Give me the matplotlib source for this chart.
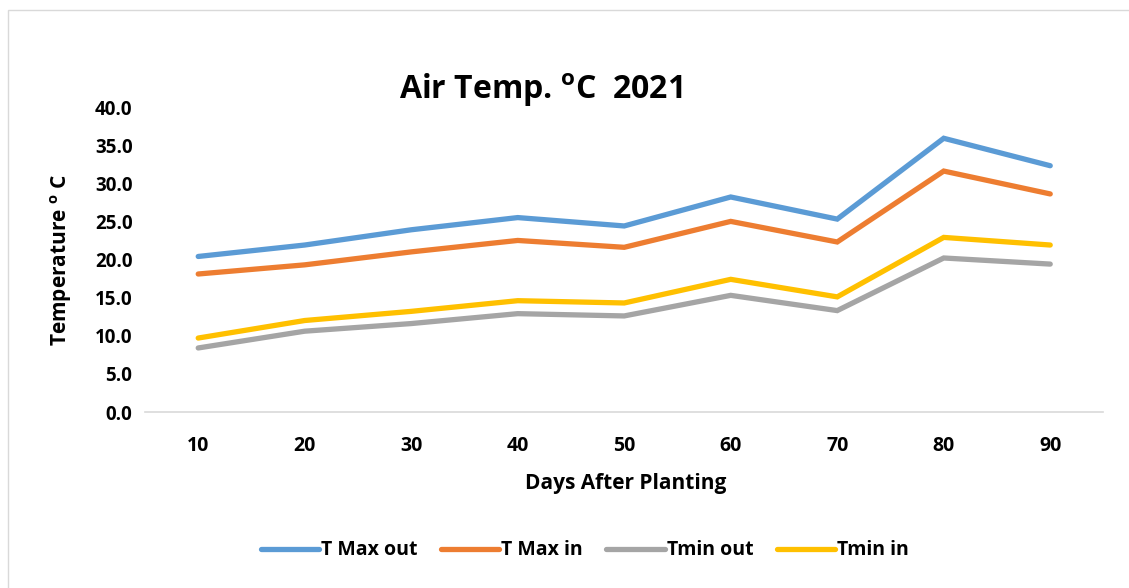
import matplotlib

matplotlib.use("Agg")
import matplotlib.pyplot as plt
from matplotlib.patches import Rectangle

plt.rcParams["font.family"] = ["Open Sans", "DejaVu Sans"]
plt.rcParams["font.weight"] = "bold"
plt.rcParams["mathtext.fontset"] = "custom"
plt.rcParams["mathtext.rm"] = "Open Sans"
plt.rcParams["mathtext.bf"] = "Open Sans:bold"

# days after planting
days = [10, 20, 30, 40, 50, 60, 70, 80, 90]
day_labels = ["10", "20", "30", "40", "50", "60", "70", "80", "90"]

# air temperature, deg C
t_max_out = [20.4, 21.9, 23.9, 25.5, 24.4, 28.2, 25.3, 35.9, 32.3]
t_max_in = [18.1, 19.3, 21.0, 22.5, 21.6, 25.0, 22.3, 31.6, 28.6]
t_min_out = [8.4, 10.6, 11.6, 12.9, 12.6, 15.3, 13.3, 20.2, 19.4]
t_min_in = [9.7, 12.0, 13.2, 14.6, 14.3, 17.4, 15.1, 22.9, 21.9]

series = [
    ("T Max out", t_max_out, "#5B9BD5"),
    ("T Max in", t_max_in, "#ED7D31"),
    ("Tmin out", t_min_out, "#A5A5A5"),
    ("Tmin in", t_min_in, "#FFC000"),
]

fig = plt.figure(figsize=(11.29, 5.88), dpi=100)
ax = fig.add_axes([0.1284, 0.2993, 0.849, 0.5187])

for name, vals, col in series:
    ax.plot(days, vals, color=col, lw=3.8, label=name, solid_capstyle="round",
            solid_joinstyle="miter")

ax.set_xlim(5, 95)
ax.set_ylim(0, 40)
ax.set_yticks([0, 5, 10, 15, 20, 25, 30, 35, 40])
ax.set_yticklabels([f"{v:.1f}" for v in ax.get_yticks()], fontsize=13.5, fontweight="bold")
ax.set_xticks(days)
ax.set_xticklabels(day_labels, fontsize=14, fontweight="bold")
ax.tick_params(length=0)
ax.tick_params(axis="x", pad=17)
ax.tick_params(axis="y", pad=9)

for s in ["top", "right", "left"]:
    ax.spines[s].set_visible(False)
ax.spines["bottom"].set_color("#D9D9D9")
ax.spines["bottom"].set_linewidth(1.2)

ax.set_xlabel("Days After Planting", fontsize=15, fontweight="bold")
ax.set_ylabel(r"Temperature $^{\mathbf{o}}$ C", fontsize=15, fontweight="bold")
ax.yaxis.set_label_coords(-0.074, 0.50)
ax.xaxis.set_label_coords(0.502, -0.20)

fig.text(0.479, 0.847, r"Air Temp. $^{\mathbf{o}}$C  2021", fontsize=23,
         fontweight="bold", ha="center", va="center")

leg = fig.legend(loc="center", bbox_to_anchor=(0.518, 0.064), ncol=4, frameon=False,
                 fontsize=14, handlelength=3.0, columnspacing=1.2, handletextpad=0.1)
for t in leg.get_texts():
    t.set_fontweight("bold")

# chart area border
fig.patches.append(Rectangle((0.007, -0.02), 1.2, 1.003, transform=fig.transFigure,
                             fill=False, edgecolor="#D9D9D9", lw=1))

fig.savefig("out.png", dpi=100)
